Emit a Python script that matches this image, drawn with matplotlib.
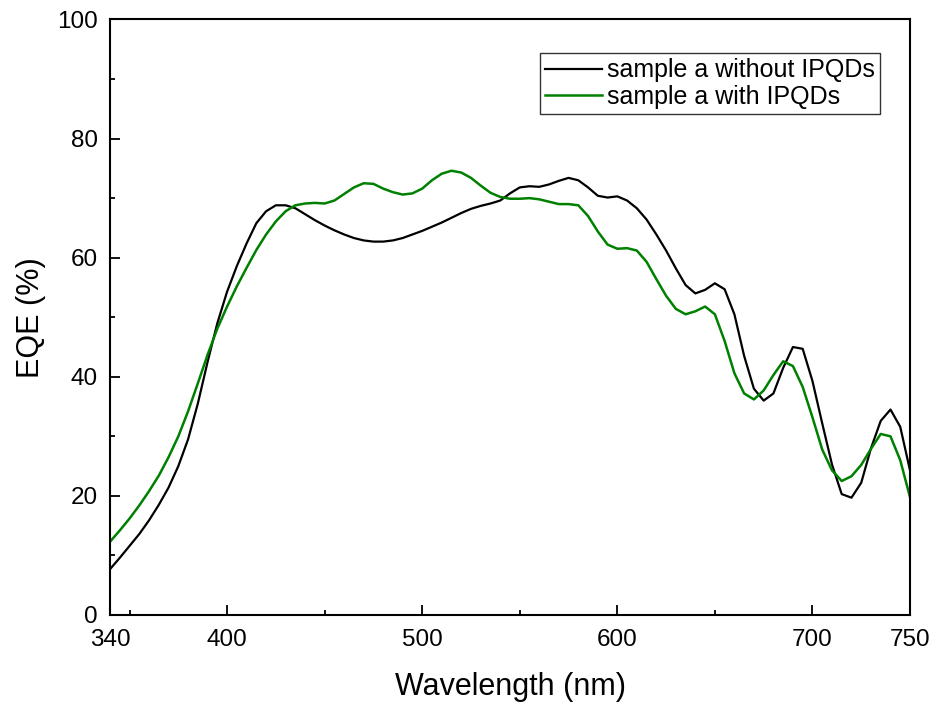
import matplotlib
matplotlib.use("Agg")
import matplotlib.pyplot as plt
from matplotlib.ticker import MultipleLocator, FixedLocator

plt.rcParams['font.family'] = ['Liberation Sans', 'DejaVu Sans']

wavelength = list(range(340, 751, 5))

eqe_without = [7.7, 9.6, 11.6, 13.6, 15.9, 18.5, 21.4, 25.0, 29.5, 35.5,
               42.5, 49.0, 54.3, 58.6, 62.4, 65.8, 67.8, 68.8, 68.8, 68.3,
               67.3, 66.3, 65.4, 64.6, 63.9, 63.3, 62.9, 62.7, 62.7, 62.9,
               63.3, 63.9, 64.5, 65.2, 65.9, 66.7, 67.5, 68.2, 68.7, 69.1,
               69.6, 70.8, 71.8, 72.0, 71.9, 72.3, 72.9, 73.4, 73.0, 71.8,
               70.4, 70.1, 70.3, 69.6, 68.3, 66.4, 63.9, 61.2, 58.2, 55.4,
               54.0, 54.6, 55.7, 54.7, 50.5, 43.5, 38.0, 36.0, 37.2, 41.5,
               45.0, 44.7, 39.3, 32.2, 25.3, 20.3, 19.7, 22.2, 28.0, 32.6,
               34.5, 31.6, 24.3]

eqe_with = [12.3, 14.2, 16.2, 18.4, 20.8, 23.4, 26.5, 30.0, 34.2, 38.9,
            43.7, 48.1, 51.8, 55.2, 58.3, 61.3, 63.9, 66.1, 67.8, 68.8,
            69.1, 69.2, 69.1, 69.6, 70.7, 71.8, 72.5, 72.4, 71.6, 71.0,
            70.6, 70.8, 71.6, 73.0, 74.1, 74.6, 74.3, 73.4, 72.1, 70.9,
            70.2, 69.9, 69.9, 70.0, 69.8, 69.4, 69.0, 69.0, 68.8, 67.0,
            64.4, 62.2, 61.5, 61.6, 61.2, 59.3, 56.4, 53.6, 51.4, 50.5,
            51.0, 51.8, 50.5, 46.0, 40.6, 37.2, 36.2, 37.7, 40.3, 42.6,
            41.8, 38.3, 33.2, 27.8, 24.3, 22.5, 23.3, 25.2, 27.9, 30.4,
            30.0, 26.0, 19.8]

labels = ["sample a without IPQDs", "sample a with IPQDs"]
colors = ["black", "#008000"]
xticks_major = [340, 400, 500, 600, 700, 750]
xticks_minor = [350, 450, 550, 650]

fig = plt.figure(figsize=(9.34, 7.06), dpi=100)
ax = fig.add_axes([0.1178, 0.1289, 0.8565, 0.8435])

ax.plot(wavelength, eqe_without, color=colors[0], lw=1.6, label=labels[0])
ax.plot(wavelength, eqe_with, color=colors[1], lw=1.8, label=labels[1])

ax.set_xlim(340, 750)
ax.set_ylim(0, 100)
ax.xaxis.set_major_locator(FixedLocator(xticks_major))
ax.xaxis.set_minor_locator(FixedLocator(xticks_minor))
ax.yaxis.set_major_locator(MultipleLocator(20))
ax.yaxis.set_minor_locator(MultipleLocator(10))
ax.tick_params(which='both', direction='in', top=False, right=False, labelsize=17.5, width=1.3)
ax.tick_params(axis='x', which='major', length=7.5, pad=10)
ax.tick_params(axis='y', which='major', length=7.5, pad=9)
ax.tick_params(which='minor', length=3.8)
for s in ax.spines.values():
    s.set_linewidth(1.5)

ax.set_xlabel("Wavelength (nm)", fontsize=22, labelpad=15)
ax.set_ylabel("EQE (%)", fontsize=22, labelpad=8)

leg = ax.legend(loc='upper right', bbox_to_anchor=(0.9625, 0.943), fontsize=18,
                frameon=True, fancybox=False, edgecolor='black', handlelength=2.3,
                handletextpad=0.2, borderpad=0.2, labelspacing=0.1, borderaxespad=0)
leg.get_frame().set_linewidth(1.0)

fig.savefig("out.png", dpi=100)
